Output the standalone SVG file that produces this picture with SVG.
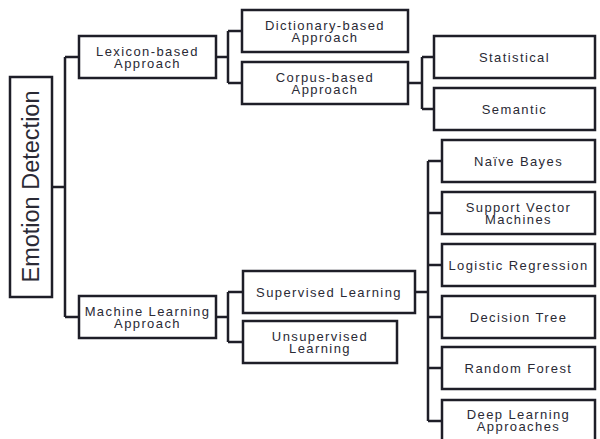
<svg xmlns="http://www.w3.org/2000/svg" width="600" height="439" viewBox="0 0 600 439">
<style>
.box{fill:#fff;stroke:#1e1e28;stroke-width:2.5}
.lbl{font-family:"Liberation Sans",Arial,sans-serif;font-size:13px;letter-spacing:1.4px;fill:#2a2a35;text-anchor:middle}
.big{font-family:"Liberation Sans",Arial,sans-serif;font-size:23.5px;fill:#2a2a35;text-anchor:middle}
.con{fill:none;stroke:#1e1e28;stroke-width:2.5}
</style>
<rect width="600" height="439" fill="#fff"/>
<g id="connectors">
<path class="con" d="M52 187H65M65 57V317M65 57H79M65 317H79"/>
<path class="con" d="M216 57H228M228 31V83M228 31H242M228 83H242"/>
<path class="con" d="M408 83H422M422 57V109M422 57H434M422 109H434"/>
<path class="con" d="M216 317H228M228 292V342M228 292H243M228 342H243"/>
<path class="con" d="M415 292H428M428 161V421M428 161H442M428 213H442M428 265H442M428 317H442M428 368H442M428 421H442"/>
</g>
<g id="emotion"><rect class="box" x="10" y="77" width="42" height="220"/><text class="big" transform="translate(39,186.5) rotate(-90)">Emotion Detection</text></g>
<g id="lexicon"><rect class="box" x="79" y="36" width="137" height="42"/><text class="lbl" x="147.5" y="55.5">Lexicon-based<tspan x="147.5" dy="12">Approach</tspan></text></g>
<g id="ml"><rect class="box" x="79" y="296" width="137" height="42"/><text class="lbl" x="147.5" y="315.5">Machine Learning<tspan x="147.5" dy="12">Approach</tspan></text></g>
<g id="dictionary"><rect class="box" x="242" y="10" width="166" height="42"/><text class="lbl" x="325" y="29.5">Dictionary-based<tspan x="325" dy="12">Approach</tspan></text></g>
<g id="corpus"><rect class="box" x="242" y="62" width="166" height="42"/><text class="lbl" x="325" y="81.5">Corpus-based<tspan x="325" dy="12">Approach</tspan></text></g>
<g id="statistical"><rect class="box" x="434" y="36" width="161" height="42"/><text class="lbl" x="514.5" y="61.5">Statistical</text></g>
<g id="semantic"><rect class="box" x="434" y="88" width="161" height="42"/><text class="lbl" x="514.5" y="113.5">Semantic</text></g>
<g id="supervised"><rect class="box" x="243" y="271" width="172" height="42"/><text class="lbl" x="329" y="296.5">Supervised Learning</text></g>
<g id="unsupervised"><rect class="box" x="243" y="321" width="154" height="42"/><text class="lbl" x="320" y="340.5">Unsupervised<tspan x="320" dy="12">Learning</tspan></text></g>
<g id="naive"><rect class="box" x="442" y="140" width="153" height="42"/><text class="lbl" x="518.5" y="165.5">Naïve Bayes</text></g>
<g id="svm"><rect class="box" x="442" y="192" width="153" height="42"/><text class="lbl" x="518.5" y="211.5">Support Vector<tspan x="518.5" dy="12">Machines</tspan></text></g>
<g id="logistic"><rect class="box" x="442" y="244" width="153" height="42"/><text class="lbl" x="518.5" y="269.5">Logistic Regression</text></g>
<g id="decision"><rect class="box" x="442" y="296" width="153" height="42"/><text class="lbl" x="518.5" y="321.5">Decision Tree</text></g>
<g id="forest"><rect class="box" x="442" y="347" width="153" height="42"/><text class="lbl" x="518.5" y="372.5">Random Forest</text></g>
<g id="deep"><rect class="box" x="442" y="400" width="153" height="42"/><text class="lbl" x="518.5" y="418.5">Deep Learning<tspan x="518.5" dy="12">Approaches</tspan></text></g>
</svg>
